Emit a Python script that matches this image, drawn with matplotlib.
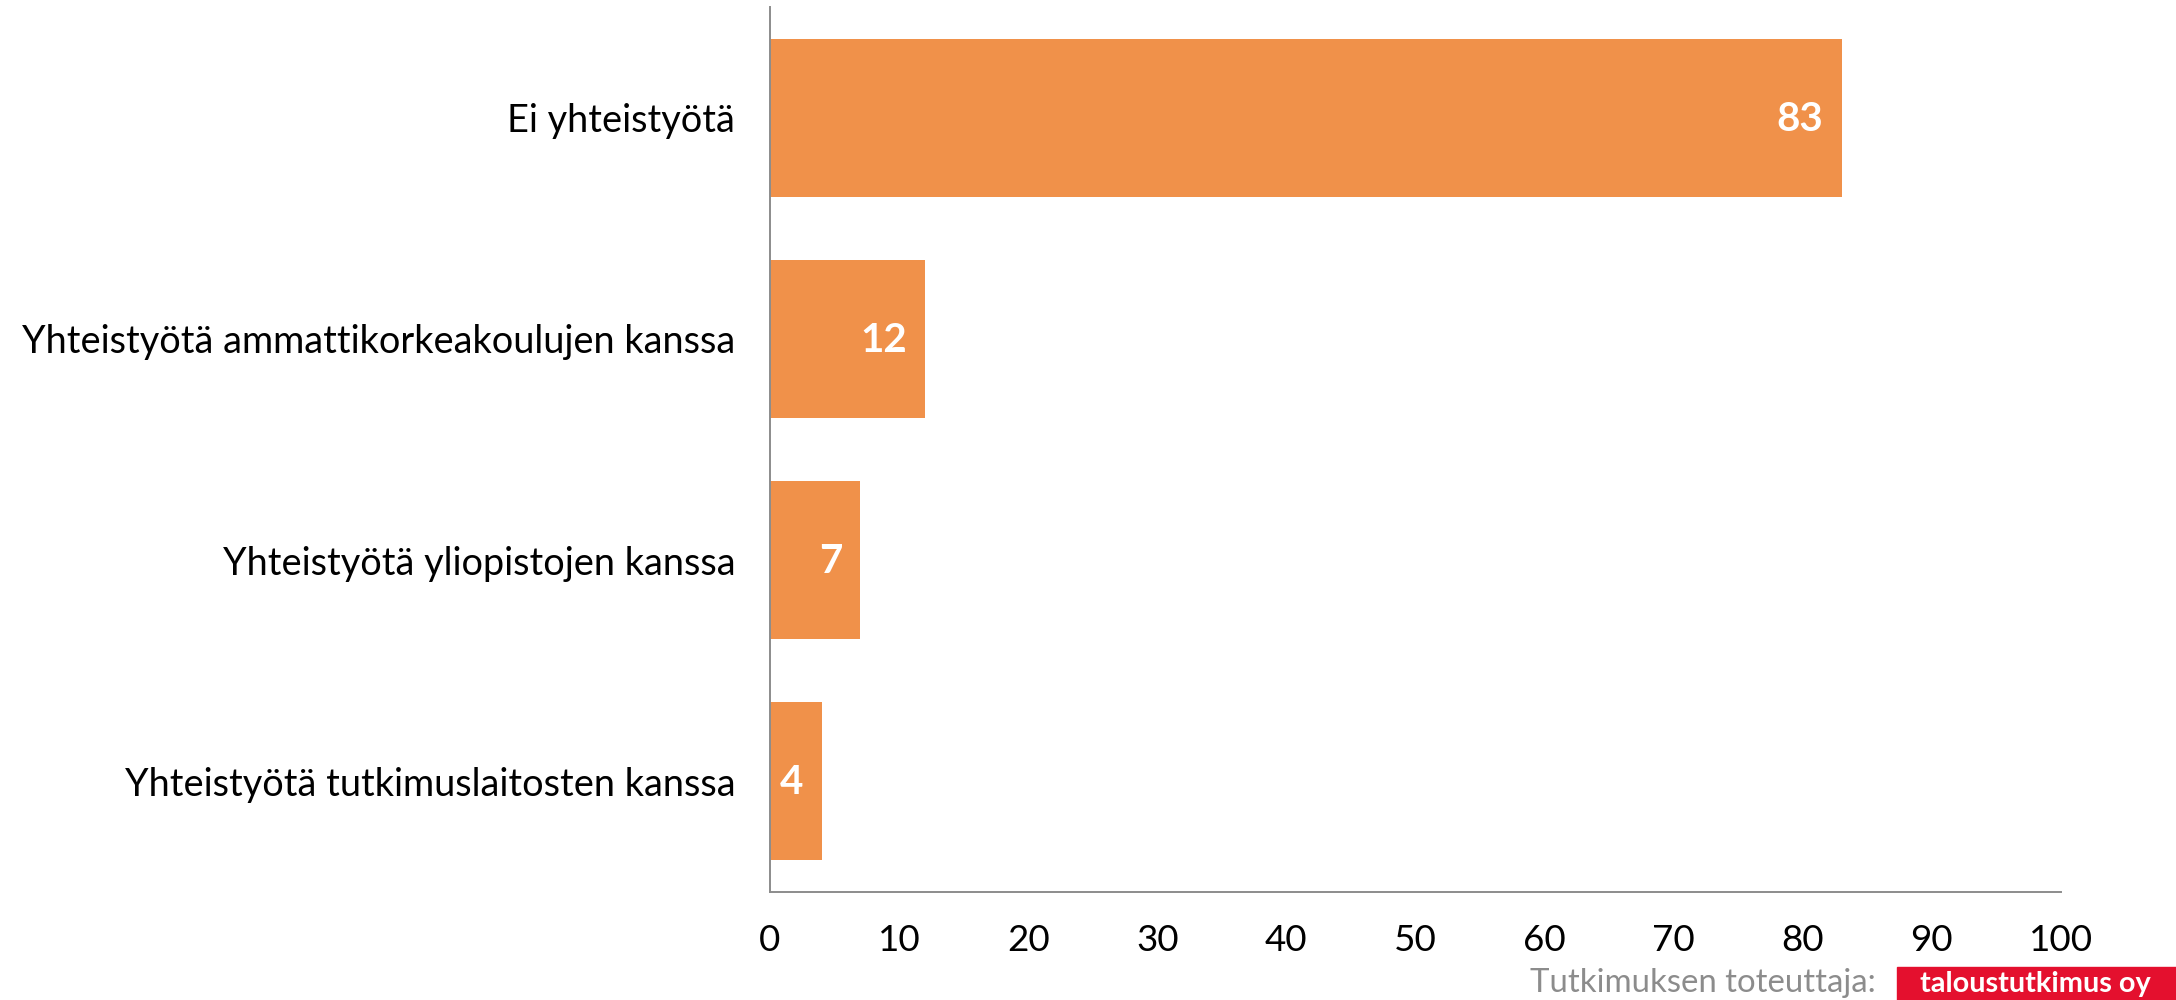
import matplotlib.pyplot as plt
from matplotlib.patches import Rectangle

# data
categories = ['Ei yhteistyötä',
              'Yhteistyötä ammattikorkeakoulujen kanssa',
              'Yhteistyötä yliopistojen kanssa',
              'Yhteistyötä tutkimuslaitosten kanssa']
values = [83, 12, 7, 4]
xticks = [0, 10, 20, 30, 40, 50, 60, 70, 80, 90, 100]

bar_color = '#F0914A'
spine_color = '#8C8C8C'

plt.rcParams['font.family'] = ['Lato', 'DejaVu Sans']

fig = plt.figure(figsize=(21.76, 10), dpi=100)
ax = fig.add_axes([770 / 2176, 0.108, (2061 - 770) / 2176, 0.993 - 0.108])

ypos = list(range(len(categories)))
bars = ax.barh(ypos, values, height=0.714, color=bar_color)

ax.set_xlim(0, 100)
ax.set_ylim(len(categories) - 0.5, -0.5)
ax.set_yticks(ypos)
ax.set_yticklabels(categories, fontsize=27.3)
ax.set_xticks(xticks)
ax.set_xticklabels([str(t) for t in xticks], fontsize=26.5)
ax.tick_params(axis='y', length=0, pad=25)
ax.tick_params(axis='x', length=0, pad=23)

for s in ['top', 'right']:
    ax.spines[s].set_visible(False)
for s in ['left', 'bottom']:
    ax.spines[s].set_color(spine_color)
    ax.spines[s].set_linewidth(1.4)

# value labels inside the bar ends
for y, v in zip(ypos, values):
    ax.annotate(str(v), xy=(v, y), xytext=(-13, -1), textcoords='offset points',
                ha='right', va='center', color='white', fontsize=29,
                fontweight='bold')

# footer
fig.text(1876 / 2176, 0.017, 'Tutkimuksen toteuttaja:', ha='right', va='center',
         color='#8C8C8C', fontsize=23.7)
fig.patches.append(Rectangle((1897 / 2176, 0), (2176 - 1897) / 2176, 0.033,
                             transform=fig.transFigure, color='#E4102E'))
fig.text(2035 / 2176, 0.016, 'taloustutkimus oy', ha='center', va='center',
         color='white', fontsize=20.8, fontweight='bold')

fig.savefig('out.png', dpi=100)
